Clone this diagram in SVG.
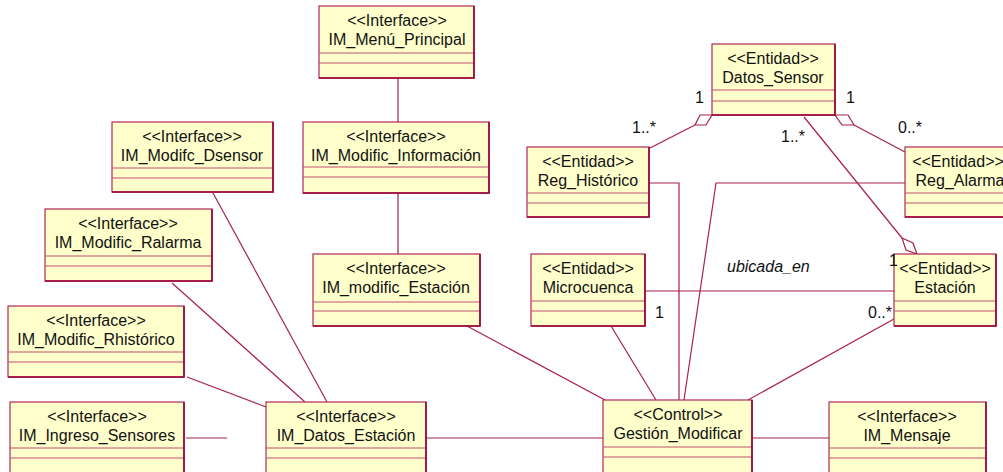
<svg xmlns="http://www.w3.org/2000/svg" width="1003" height="472" viewBox="0 0 1003 472">
<style>
.box{fill:#FFFFCC;stroke:#B02858;stroke-width:1.2}
.sep{stroke:#C05070;stroke-width:1.2}
.edge{stroke:#990033;stroke-width:1.6;fill:none}
.t{font-family:"Liberation Sans",Arial,sans-serif;font-size:16px;fill:#111;text-anchor:middle}
.l{font-family:"Liberation Sans",Arial,sans-serif;font-size:16px;fill:#111}
.c{stroke:#A8204C;stroke-width:1.2;fill:none}
.d{stroke:#A8204C;stroke-width:1.2;fill:#FFFFFF}
</style>
<rect width="1003" height="472" fill="#FFFFFF"/>
<g id="connectors">
<line class="c" x1="398" y1="78" x2="398" y2="122"/>
<line class="c" x1="398" y1="193" x2="398" y2="254"/>
<line class="c" x1="467" y1="326" x2="605" y2="400"/>
<line class="c" x1="611" y1="326" x2="656" y2="400"/>
<polyline class="c" points="649,183 679,183 679,400"/>
<polyline class="c" points="905,183 716,183 684,400"/>
<line class="c" x1="894" y1="319" x2="748" y2="400"/>
<line class="c" x1="645" y1="291" x2="894" y2="291"/>
<line class="c" x1="804" y1="117" x2="902" y2="238"/>
<polygon class="d" points="902,238 913,243 917,254 906,250"/>
<line class="c" x1="695" y1="125" x2="650" y2="148"/>
<polygon class="d" points="712,115 700,115 695,125 706,125"/>
<line class="c" x1="854" y1="125" x2="905" y2="152"/>
<polygon class="d" points="835,115 848,115 854,125 842,125"/>
<line class="c" x1="213" y1="193" x2="327" y2="402"/>
<line class="c" x1="172" y1="283" x2="305" y2="402"/>
<line class="c" x1="187" y1="377" x2="266" y2="407"/>
<line class="c" x1="186" y1="438" x2="227" y2="438"/>
<line class="c" x1="426" y1="438" x2="603" y2="438"/>
<line class="c" x1="752" y1="438" x2="829" y2="438"/>
</g>
<g id="n_menu">
<rect class="box" x="319" y="6" width="155" height="72"/>
<line class="sep" x1="319" y1="53" x2="474" y2="53"/><line class="sep" x1="319" y1="63" x2="474" y2="63"/>
<polyline class="edge" points="474,6 474,78 319,78"/>
<text class="t" x="397" y="26">&lt;&lt;Interface&gt;&gt;</text><text class="t" x="397" y="45">IM_Menú_Principal</text>
</g>
<g id="n_informacion">
<rect class="box" x="303" y="122" width="186" height="71"/>
<line class="sep" x1="303" y1="167" x2="489" y2="167"/><line class="sep" x1="303" y1="177" x2="489" y2="177"/>
<polyline class="edge" points="489,122 489,193 303,193"/>
<text class="t" x="396" y="142">&lt;&lt;Interface&gt;&gt;</text><text class="t" x="396" y="161">IM_Modific_Información</text>
</g>
<g id="n_dsensor">
<rect class="box" x="112" y="122" width="161" height="70"/>
<line class="sep" x1="112" y1="168" x2="273" y2="168"/><line class="sep" x1="112" y1="178" x2="273" y2="178"/>
<polyline class="edge" points="273,122 273,192 112,192"/>
<text class="t" x="192" y="142">&lt;&lt;Interface&gt;&gt;</text><text class="t" x="192" y="161">IM_Modifc_Dsensor</text>
</g>
<g id="n_ralarma">
<rect class="box" x="45" y="209" width="167" height="72"/>
<line class="sep" x1="45" y1="256" x2="212" y2="256"/><line class="sep" x1="45" y1="266" x2="212" y2="266"/>
<polyline class="edge" points="212,209 212,281 45,281"/>
<text class="t" x="128" y="229">&lt;&lt;Interface&gt;&gt;</text><text class="t" x="128" y="248">IM_Modific_Ralarma</text>
</g>
<g id="n_rhistorico">
<rect class="box" x="8" y="306" width="176" height="71"/>
<line class="sep" x1="8" y1="352" x2="184" y2="352"/><line class="sep" x1="8" y1="362" x2="184" y2="362"/>
<polyline class="edge" points="184,306 184,377 8,377"/>
<text class="t" x="96" y="326">&lt;&lt;Interface&gt;&gt;</text><text class="t" x="96" y="345">IM_Modific_Rhistórico</text>
</g>
<g id="n_ingreso">
<rect class="box" x="10" y="402" width="174" height="80"/>
<line class="sep" x1="10" y1="448" x2="184" y2="448"/><line class="sep" x1="10" y1="458" x2="184" y2="458"/>
<line class="edge" x1="184" y1="402" x2="184" y2="472"/>
<text class="t" x="97" y="422">&lt;&lt;Interface&gt;&gt;</text><text class="t" x="97" y="441">IM_Ingreso_Sensores</text>
</g>
<g id="n_datos_estacion">
<rect class="box" x="266" y="402" width="160" height="80"/>
<line class="sep" x1="266" y1="448" x2="426" y2="448"/><line class="sep" x1="266" y1="458" x2="426" y2="458"/>
<line class="edge" x1="426" y1="402" x2="426" y2="472"/>
<text class="t" x="346" y="422">&lt;&lt;Interface&gt;&gt;</text><text class="t" x="346" y="441">IM_Datos_Estación</text>
</g>
<g id="n_modific_estacion">
<rect class="box" x="313" y="254" width="167" height="72"/>
<line class="sep" x1="313" y1="302" x2="480" y2="302"/><line class="sep" x1="313" y1="311" x2="480" y2="311"/>
<polyline class="edge" points="480,254 480,326 313,326"/>
<text class="t" x="396" y="274">&lt;&lt;Interface&gt;&gt;</text><text class="t" x="396" y="293">IM_modific_Estación</text>
</g>
<g id="n_microcuenca">
<rect class="box" x="531" y="254" width="114" height="72"/>
<line class="sep" x1="531" y1="301" x2="645" y2="301"/><line class="sep" x1="531" y1="311" x2="645" y2="311"/>
<polyline class="edge" points="645,254 645,326 531,326"/>
<text class="t" x="588" y="274">&lt;&lt;Entidad&gt;&gt;</text><text class="t" x="588" y="293">Microcuenca</text>
</g>
<g id="n_estacion">
<rect class="box" x="894" y="254" width="102" height="72"/>
<line class="sep" x1="894" y1="301" x2="996" y2="301"/><line class="sep" x1="894" y1="311" x2="996" y2="311"/>
<polyline class="edge" points="996,254 996,326 894,326"/>
<text class="t" x="945" y="274">&lt;&lt;Entidad&gt;&gt;</text><text class="t" x="945" y="293">Estación</text>
</g>
<g id="n_gestion">
<rect class="box" x="603" y="400" width="149" height="82"/>
<line class="sep" x1="603" y1="447" x2="752" y2="447"/><line class="sep" x1="603" y1="457" x2="752" y2="457"/>
<line class="edge" x1="752" y1="400" x2="752" y2="472"/>
<text class="t" x="678" y="420">&lt;&lt;Control&gt;&gt;</text><text class="t" x="678" y="439">Gestión_Modificar</text>
</g>
<g id="n_mensaje">
<rect class="box" x="829" y="402" width="157" height="80"/>
<line class="sep" x1="829" y1="448" x2="986" y2="448"/><line class="sep" x1="829" y1="458" x2="986" y2="458"/>
<line class="edge" x1="986" y1="402" x2="986" y2="472"/>
<text class="t" x="907" y="422">&lt;&lt;Interface&gt;&gt;</text><text class="t" x="907" y="441">IM_Mensaje</text>
</g>
<g id="n_datos_sensor">
<rect class="box" x="712" y="44" width="123" height="71"/>
<line class="sep" x1="712" y1="90" x2="835" y2="90"/><line class="sep" x1="712" y1="101" x2="835" y2="101"/>
<polyline class="edge" points="835,44 835,115 712,115"/>
<text class="t" x="773" y="64">&lt;&lt;Entidad&gt;&gt;</text><text class="t" x="773" y="83">Datos_Sensor</text>
</g>
<g id="n_reg_historico">
<rect class="box" x="527" y="147" width="122" height="70"/>
<line class="sep" x1="527" y1="193" x2="649" y2="193"/><line class="sep" x1="527" y1="203" x2="649" y2="203"/>
<polyline class="edge" points="649,147 649,217 527,217"/>
<text class="t" x="588" y="167">&lt;&lt;Entidad&gt;&gt;</text><text class="t" x="588" y="186">Reg_Histórico</text>
</g>
<g id="n_reg_alarma">
<rect class="box" x="905" y="147" width="103" height="70"/>
<line class="sep" x1="905" y1="193" x2="1008" y2="193"/><line class="sep" x1="905" y1="203" x2="1008" y2="203"/>
<line class="edge" x1="905" y1="217" x2="1008" y2="217"/>
<text class="t" x="958" y="167">&lt;&lt;Entidad&gt;&gt;</text><text class="t" x="960" y="186">Reg_Alarma</text>
</g>
<g id="labels">
<text class="l" x="695" y="103">1</text>
<text class="l" x="632" y="133">1..*</text>
<text class="l" x="846" y="103">1</text>
<text class="l" x="898" y="133">0..*</text>
<text class="l" x="781" y="142">1..*</text>
<text class="l" x="727" y="272" font-style="italic">ubicada_en</text>
<text class="l" x="655" y="318">1</text>
<text class="l" x="868" y="318">0..*</text>
<text class="l" x="889" y="266">1</text>
</g>
</svg>
